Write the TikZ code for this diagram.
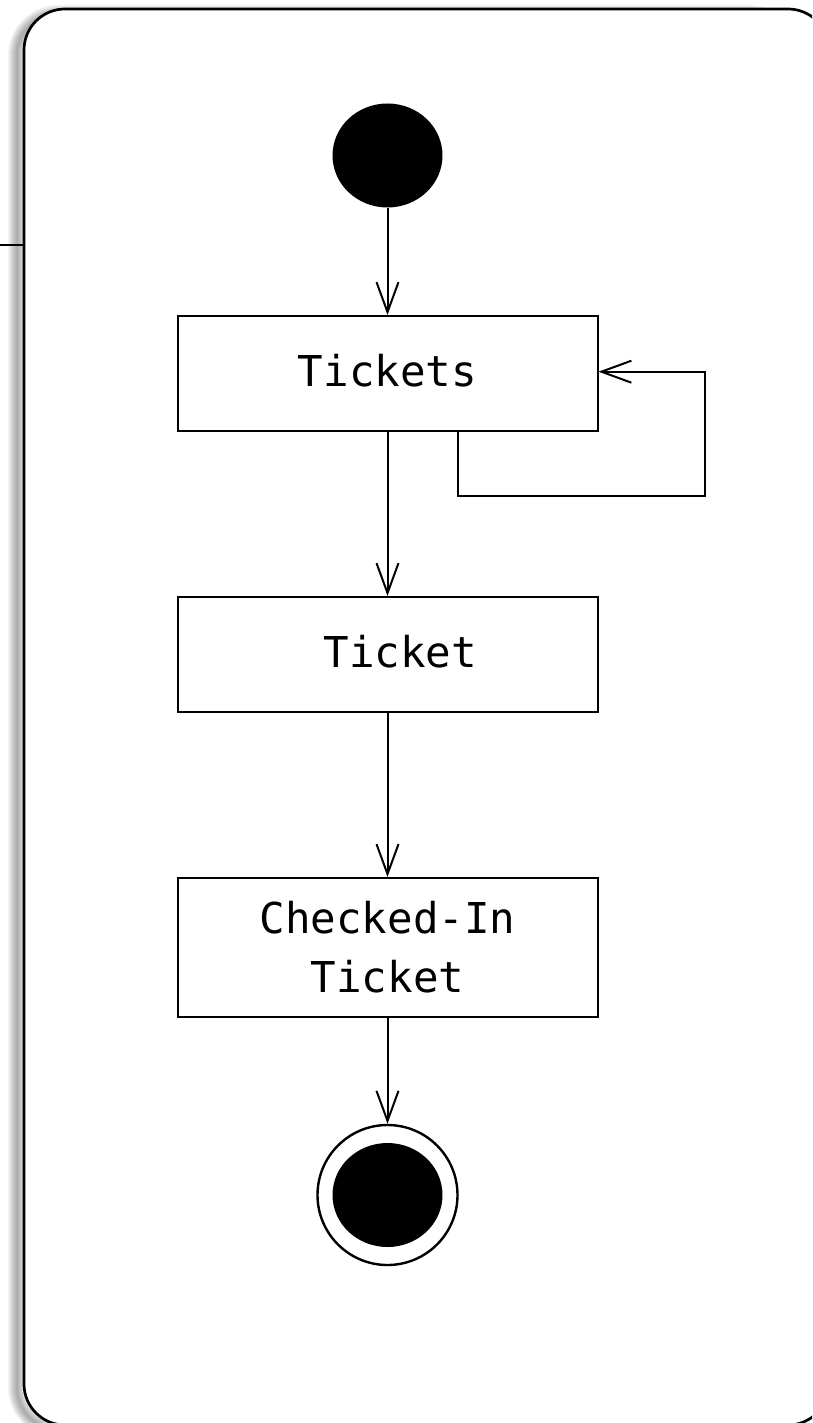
\documentclass[tikz,border=0pt]{standalone}
\usepackage{fontspec}
\setmonofont{DejaVu Sans Mono}
\usetikzlibrary{arrows.meta,shapes.geometric}
\newcommand\lblfont{\ttfamily\fontsize{42.5}{59}\selectfont}
\begin{document}
\begin{tikzpicture}[x=1pt,y=-1pt,
  box/.style={draw, line width=2pt, minimum width=420pt, minimum height=115pt, inner sep=0pt, font=\lblfont},
  oneline/.style={text height=35pt, text depth=10pt},
  conn/.style={line width=2pt, -{Straight Barb[length=30pt,width=22pt]}},
  dot/.style={ellipse, fill=black, minimum width=110pt, minimum height=104pt, inner sep=0pt},
  framefill/.style={fill=white, rounded corners=41pt},
  frameline/.style={line width=2.7pt, rounded corners=41pt},
  shade/.style={black, opacity=0.04, rounded corners=41pt}]
\fill[white] (0,0) rectangle (812,1423);
\useasboundingbox (0,0) rectangle (812,1423);
\begin{scope}
\clip (0,0) rectangle (812,1423);
% soft shadow of the frame (left, top and bottom)
\foreach \w in {2,4,...,18} \draw[shade, line width=\w pt] (17,14) rectangle (790,1429);
% frame
\fill[framefill] (24,9) rectangle (829,1425);
\draw[frameline] (829,50) -- (829,9) -- (24,9) -- (24,1425) -- (829,1425) -- (829,1384);
\end{scope}
\coordinate (edgeL) at (0,245);
\coordinate (edgeR) at (24,245);
\draw[line width=1.6pt] (edgeL) -- (edgeR);
% nodes
\node[dot] (init) at (387.5,155.5) {};
\node[box, oneline] (tickets) at (387.5,373.5) {Tickets};
\node[box, oneline] (ticket) at (387.5,654.5) {\hphantom{T}Ticket};
\node[box, minimum height=139pt, align=center] (checked) at (387.5,947.5) {Checked-In\\Ticket};
\node[circle, draw, line width=2.4pt, minimum size=140pt, inner sep=0pt] (final) at (387.5,1195) {};
\node[dot] (finaldot) at (final.center) {};
% connectors
\coordinate (loopc) at (705,495.5);
\draw[conn] (init) -- (tickets);
\draw[conn] ([xshift=70pt]tickets.south) |- (loopc) |- ([yshift=1.8pt]tickets.east);
\draw[conn] (tickets) -- (ticket);
\draw[conn] (ticket) -- (checked);
\draw[conn] (checked) -- (final);
\end{tikzpicture}
\end{document}
